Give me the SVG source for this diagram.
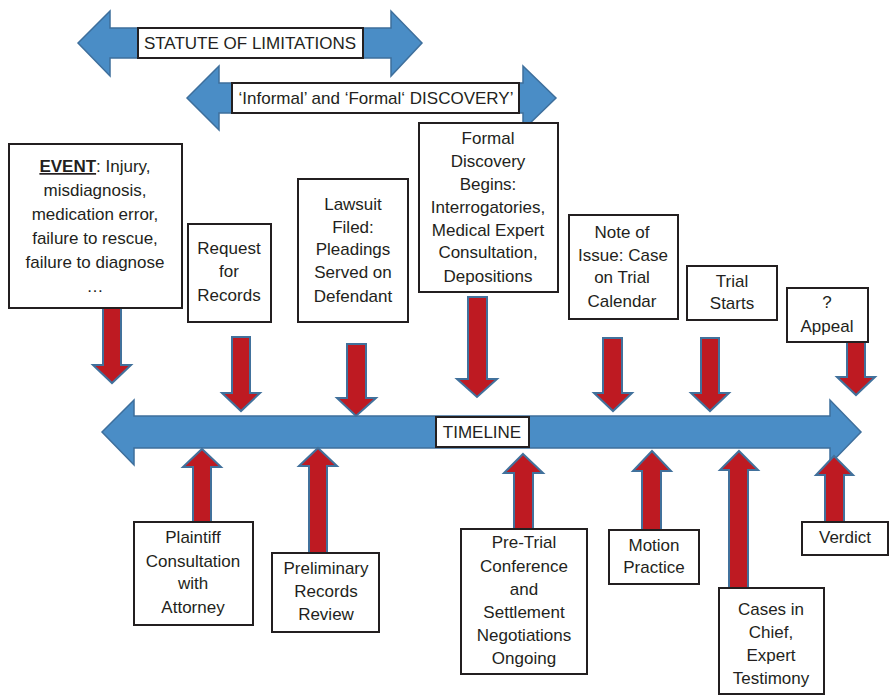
<svg xmlns="http://www.w3.org/2000/svg" width="889" height="697" viewBox="0 0 889 697">
<style>
.band{fill:#4a8dc6;stroke:#3e6f9c;stroke-width:1.5}
.red{fill:#be1a22;stroke:#41719c;stroke-width:2}
.box{fill:#fff;stroke:#231f20;stroke-width:2}
text{font-family:"Liberation Sans",Arial,sans-serif;font-size:17px;fill:#231f20;text-anchor:middle}
</style>
<rect width="889" height="697" fill="#fff"/>
<g id="bands">
<polygon class="band" points="78,43 110,11 110,28 391,28 391,11 422,43 391,76 391,58 110,58 110,76"/>
<polygon class="band" points="187,98 219,66 219,83 523,83 523,66 556,98 523,130 523,113 219,113 219,130"/>
<polygon class="band" points="102,432 134,400 134,416 830,416 830,400 861,432 830,464 830,448 134,448 134,465"/>
</g>
<g id="labels">
<g id="statute"><rect class="box" x="138" y="28" width="225" height="30"/><text x="250" y="49">STATUTE OF LIMITATIONS</text></g>
<g id="discovery"><rect class="box" x="232" y="83" width="287" height="30"/><text x="376" y="104">‘Informal’ and ‘Formal‘ DISCOVERY’</text></g>
<g id="timeline"><rect class="box" x="436" y="417" width="93" height="30"/><text x="482" y="438">TIMELINE</text></g>
</g>
<g id="connectors">
<polygon class="red" points="103,308 121,308 121,365 131,365 112,383 93,365 103,365"/>
<polygon class="red" points="232,337 250,337 250,393 260,393 241,411 222,393 232,393"/>
<polygon class="red" points="347,344 366,344 366,398 376,398 356,416 337,398 347,398"/>
<polygon class="red" points="468,297 487,297 487,379 497,379 477,397 457,379 468,379"/>
<polygon class="red" points="603,338 622,338 622,393 632,393 613,411 594,393 603,393"/>
<polygon class="red" points="701,338 719,338 719,393 729,393 710,411 691,393 701,393"/>
<polygon class="red" points="847,342 865,342 865,377 875,377 856,395 837,377 847,377"/>
<polygon class="red" points="202,449 221,467 211,467 211,522 193,522 193,467 183,467"/>
<polygon class="red" points="318,448 337,466 327,466 327,553 309,553 309,466 299,466"/>
<polygon class="red" points="523,454 543,473 533,473 533,529 514,529 514,473 504,473"/>
<polygon class="red" points="652,451 671,471 661,471 661,530 642,530 642,471 633,471"/>
<polygon class="red" points="739,451 758,470 748,470 748,588 729,588 729,470 720,470"/>
<polygon class="red" points="834,456 853,475 844,475 844,522 825,522 825,475 816,475"/>
</g>
<g id="event"><rect class="box" x="9" y="144" width="173" height="164"/>
<text x="95" y="172"><tspan font-weight="bold" text-decoration="underline">EVENT</tspan>: Injury,</text>
<text x="95" y="196">misdiagnosis,</text><text x="95" y="220">medication error,</text><text x="95" y="244">failure to rescue,</text><text x="95" y="268">failure to diagnose</text><text x="95" y="292">…</text></g>
<g id="request"><rect class="box" x="188" y="224" width="83" height="98"/>
<text x="229" y="254">Request</text><text x="229" y="277">for</text><text x="229" y="301">Records</text></g>
<g id="lawsuit"><rect class="box" x="298" y="179" width="110" height="143"/>
<text x="353" y="210">Lawsuit</text><text x="353" y="233">Filed:</text><text x="353" y="255">Pleadings</text><text x="353" y="278">Served on</text><text x="353" y="302">Defendant</text></g>
<g id="formal"><rect class="box" x="419" y="123" width="139" height="169"/>
<text x="488" y="144">Formal</text><text x="488" y="167">Discovery</text><text x="488" y="190">Begins:</text><text x="488" y="213">Interrogatories,</text><text x="488" y="236">Medical Expert</text><text x="488" y="258">Consultation,</text><text x="488" y="282">Depositions</text></g>
<g id="note"><rect class="box" x="569" y="215" width="109" height="104"/>
<text x="622" y="238">Note of</text><text x="623" y="261">Issue: Case</text><text x="622" y="283">on Trial</text><text x="622" y="307">Calendar</text></g>
<g id="trial"><rect class="box" x="687" y="266" width="90" height="54"/>
<text x="732" y="287">Trial</text><text x="732" y="309">Starts</text></g>
<g id="appeal"><rect class="box" x="787" y="288" width="81" height="54"/>
<text x="827" y="308">?</text><text x="827" y="332">Appeal</text></g>
<g id="plaintiff"><rect class="box" x="134" y="522" width="119" height="103"/>
<text x="193" y="543">Plaintiff</text><text x="193" y="567">Consultation</text><text x="193" y="589">with</text><text x="193" y="613">Attorney</text></g>
<g id="preliminary"><rect class="box" x="272" y="553" width="107" height="79"/>
<text x="326" y="574">Preliminary</text><text x="326" y="597">Records</text><text x="326" y="620">Review</text></g>
<g id="pretrial"><rect class="box" x="461" y="529" width="126" height="145"/>
<text x="524" y="548">Pre-Trial</text><text x="524" y="572">Conference</text><text x="524" y="595">and</text><text x="524" y="618">Settlement</text><text x="524" y="641">Negotiations</text><text x="524" y="664">Ongoing</text></g>
<g id="motion"><rect class="box" x="609" y="530" width="90" height="54"/>
<text x="654" y="551">Motion</text><text x="654" y="573">Practice</text></g>
<g id="cases"><rect class="box" x="719" y="588" width="105" height="106"/>
<text x="771" y="615">Cases in</text><text x="771" y="638">Chief,</text><text x="771" y="661">Expert</text><text x="771" y="684">Testimony</text></g>
<g id="verdict"><rect class="box" x="802" y="522" width="86" height="33"/>
<text x="845" y="543">Verdict</text></g>
</svg>
